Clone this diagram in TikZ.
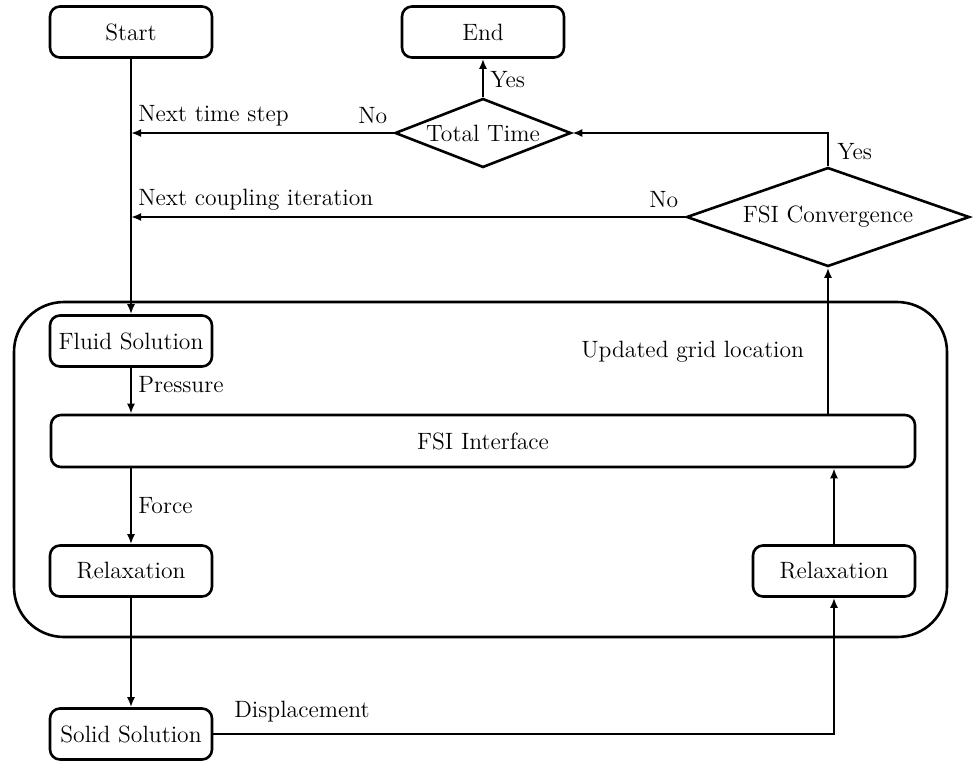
\documentclass[tikz,border=0pt]{standalone}
\usetikzlibrary{positioning, arrows.meta, shapes.geometric, calc}

\begin{document}
\begin{tikzpicture}[x=0.5pt, y=-0.5pt,
    font=\fontsize{11.8pt}{14pt}\selectfont,
    every path/.style={line width=1.3pt},
    box/.style={draw, rounded corners=5pt, minimum width=81pt, minimum height=25.5pt, inner sep=0pt},
    decision/.style={draw, diamond, aspect=2.6, inner sep=0pt},
    flow/.style={-{Latex[length=5pt, width=4pt]}},
    lbl/.style={anchor=west, inner sep=0pt}]
    \useasboundingbox (0,0) rectangle (975,762);

    % Coupling loop frame
    \draw[rounded corners=25pt] (14,302) rectangle (947,637);

    % Blocks
    \node[box] (start) at (131,32) {Start};
    \node[box] (finish) at (483,32) {End};
    \node[decision, minimum width=88pt, minimum height=34.5pt] (totaltime) at (483,133) {Total Time};
    \node[decision, minimum width=141.5pt, minimum height=49.5pt] (conv) at (828,217) {FSI Convergence};
    \node[box] (fluid) at (131,341) {Fluid Solution};
    \node[box, minimum width=432pt, minimum height=26pt] (iface) at (483,441) {FSI Interface};
    \node[box] (relaxL) at (131,571) {Relaxation};
    \node[box] (relaxR) at (834,571) {Relaxation};
    \node[box] (solid) at (131,734) {Solid Solution};

    % Labels
    \node[lbl] (nextstep) at (137,116) {Next time step};
    \node[lbl] (noTime) at (357,116) {No};
    \node[lbl] (nextiter) at (137,200) {Next coupling iteration};
    \node[lbl] (yesEnd) at (489,80) {Yes};
    \node[lbl] (yesConv) at (836,152) {Yes};
    \node[lbl] (noConv) at (648,200) {No};
    \node[lbl] (grid) at (580,352) {Updated grid location};
    \node[lbl] (pressure) at (137,385) {Pressure};
    \node[lbl] (force) at (137,506) {Force};
    \node[lbl] (disp) at (233,712) {Displacement};

    % Connectors
    \draw[flow] (start) -- (fluid);
    \draw[flow] (totaltime.north) -- (finish.south);
    \draw[flow] (totaltime.west) -- (totaltime.west -| start.south);
    \draw[flow] (conv.west) -- (conv.west -| start.south);
    \draw[flow] (conv.north) |- (totaltime.east);
    \draw[flow] (fluid) -- (fluid |- iface.north);
    \draw[flow] (iface.south -| relaxL) -- (relaxL.north);
    \draw[flow] (relaxL) -- (solid);
    \draw[flow] (solid.east) -| (relaxR.south);
    \draw[flow] (relaxR.north) -- (relaxR |- iface.south);
    \draw[flow] (iface.north -| conv) -- (conv.south);
\end{tikzpicture}
\end{document}
